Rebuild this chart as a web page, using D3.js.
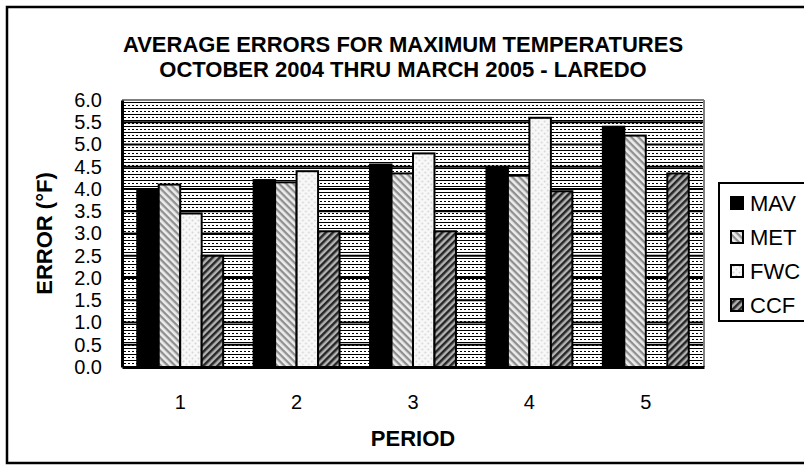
<!DOCTYPE html>
<html>
<head>
<meta charset="utf-8">
<script src="https://cdn.jsdelivr.net/npm/d3@7"></script>
<style>
  html, body { margin: 0; padding: 0; background: #fff; }
  svg { display: block; font-family: "Liberation Sans", Arial, sans-serif; }
</style>
</head>
<body>
<svg id="chart" width="804" height="471"></svg>
<script>
// ---- data ----
const categories = ["1", "2", "3", "4", "5"];
const seriesNames = ["MAV", "MET", "FWC", "CCF"];
const MAV = [4.0, 4.2, 4.55, 4.5, 5.4];
const MET = [4.1, 4.15, 4.35, 4.3, 5.2];
const FWC = [3.45, 4.4, 4.8, 5.6, null];
const CCF = [2.5, 3.05, 3.05, 3.95, 4.35];
const yTicks = [0, 0.5, 1.0, 1.5, 2.0, 2.5, 3.0, 3.5, 4.0, 4.5, 5.0, 5.5, 6.0];
const titleLines = ["AVERAGE ERRORS FOR MAXIMUM TEMPERATURES", "OCTOBER 2004 THRU MARCH 2005 - LAREDO"];
const xTitle = "PERIOD";
const yTitle = "ERROR (°F)";

const seriesValues = { MAV, MET, FWC, CCF };

// ---- layout ----
const svg = d3.select("#chart");
const plot = { left: 122, right: 704, top: 100, bottom: 367 };

// ---- patterns ----
const defs = svg.append("defs");
// plot background: horizontal solid + dotted lines
const bg = defs.append("pattern").attr("id", "bgpat").attr("patternUnits", "userSpaceOnUse")
  .attr("width", 4).attr("height", 6);
bg.append("rect").attr("width", 4).attr("height", 6).attr("fill", "#fff");
bg.append("rect").attr("x", 0).attr("y", 0).attr("width", 4).attr("height", 1).attr("fill", "#000");
bg.append("rect").attr("x", 0).attr("y", 3).attr("width", 2).attr("height", 1).attr("fill", "#000");

// MET: gray diagonal "\" stripes
const pMet = defs.append("pattern").attr("id", "pMET").attr("patternUnits", "userSpaceOnUse")
  .attr("width", 5).attr("height", 5).attr("patternTransform", "rotate(45)");
pMet.append("rect").attr("width", 5).attr("height", 5).attr("fill", "#ececec");
pMet.append("rect").attr("width", 5).attr("height", 2.3).attr("fill", "#8f8f8f");

// FWC: white with light dots
const pFwc = defs.append("pattern").attr("id", "pFWC").attr("patternUnits", "userSpaceOnUse")
  .attr("width", 6).attr("height", 6);
pFwc.append("rect").attr("width", 6).attr("height", 6).attr("fill", "#f8f8f8");
pFwc.append("circle").attr("cx", 1.5).attr("cy", 1.5).attr("r", 1).attr("fill", "#d6d6d6");
pFwc.append("circle").attr("cx", 4.5).attr("cy", 4.5).attr("r", 1).attr("fill", "#d6d6d6");

// CCF: dark diagonal "/" stripes
const pCcf = defs.append("pattern").attr("id", "pCCF").attr("patternUnits", "userSpaceOnUse")
  .attr("width", 5).attr("height", 5).attr("patternTransform", "rotate(-45)");
pCcf.append("rect").attr("width", 5).attr("height", 5).attr("fill", "#b4b4b4");
pCcf.append("rect").attr("width", 5).attr("height", 2.5).attr("fill", "#262626");

const fills = { MAV: "#000", MET: "url(#pMET)", FWC: "url(#pFWC)", CCF: "url(#pCCF)" };

// ---- outer border ----
svg.append("rect").attr("x", 7).attr("y", 7).attr("width", 820).attr("height", 456)
  .attr("fill", "none").attr("stroke", "#000").attr("stroke-width", 2.5);

// ---- scales ----
const x0 = d3.scaleBand().domain(categories).range([plot.left, plot.right]).padding(0);
const bw = x0.bandwidth();
const gapSide = bw * 0.131;
const x1 = d3.scaleBand().domain(seriesNames).range([gapSide, bw - gapSide]).padding(0);
const y = d3.scaleLinear().domain([0, 6]).range([plot.bottom, plot.top]);

// ---- plot background ----
svg.append("rect").attr("x", plot.left).attr("y", plot.top)
  .attr("width", plot.right - plot.left).attr("height", plot.bottom - plot.top)
  .attr("fill", "url(#bgpat)");

// gridlines
svg.append("g").selectAll("line").data(yTicks.slice(1, -1)).join("line")
  .attr("x1", plot.left).attr("x2", plot.right)
  .attr("y1", d => y(d)).attr("y2", d => y(d))
  .attr("stroke", "#000").attr("stroke-width", 2);

// plot frame (gray top/right)
svg.append("line").attr("x1", plot.left).attr("x2", plot.right).attr("y1", plot.top).attr("y2", plot.top)
  .attr("stroke", "#808080").attr("stroke-width", 2);
svg.append("line").attr("x1", plot.right).attr("x2", plot.right).attr("y1", plot.top).attr("y2", plot.bottom)
  .attr("stroke", "#808080").attr("stroke-width", 2);

// ---- bars ----
const groups = svg.append("g").selectAll("g").data(categories).join("g")
  .attr("transform", d => `translate(${x0(d)},0)`);
groups.selectAll("rect")
  .data((c, i) => seriesNames.map(s => ({ s, v: seriesValues[s][i] })).filter(d => d.v != null))
  .join("rect")
  .attr("x", d => x1(d.s))
  .attr("width", x1.bandwidth())
  .attr("y", d => y(d.v))
  .attr("height", d => y(0) - y(d.v))
  .attr("fill", d => fills[d.s])
  .attr("stroke", "#000").attr("stroke-width", 2);

// ---- axes ----
const yAxis = d3.axisLeft(y).tickValues(yTicks).tickFormat(d3.format(".1f")).tickSize(0).tickPadding(20);
const gy = svg.append("g").attr("transform", `translate(${plot.left},0)`).call(yAxis);
gy.select(".domain").attr("stroke", "#000").attr("stroke-width", 3);
gy.selectAll("text").attr("font-size", 20).attr("fill", "#000")
  .attr("font-family", "'Liberation Sans', Arial, sans-serif");

const xAxis = d3.axisBottom(x0).tickSize(0).tickPadding(28);
const gx = svg.append("g").attr("transform", `translate(0,${plot.bottom})`).call(xAxis);
gx.select(".domain").attr("stroke", "#000").attr("stroke-width", 3);
gx.selectAll("text").attr("font-size", 20).attr("fill", "#000")
  .attr("font-family", "'Liberation Sans', Arial, sans-serif");

// ---- titles ----
svg.append("g").selectAll("text").data(titleLines).join("text")
  .attr("x", 403).attr("y", (d, i) => 52 + i * 25)
  .attr("text-anchor", "middle").attr("font-size", 22).attr("font-weight", "bold")
  .text(d => d);

svg.append("text").attr("x", (plot.left + plot.right) / 2).attr("y", 446)
  .attr("text-anchor", "middle").attr("font-size", 22).attr("font-weight", "bold").text(xTitle);

svg.append("text").attr("transform", `translate(52,${(plot.top + plot.bottom) / 2}) rotate(-90)`)
  .attr("text-anchor", "middle").attr("font-size", 22).attr("font-weight", "bold").text(yTitle);

// ---- legend ----
const legend = svg.append("g");
legend.append("rect").attr("x", 719).attr("y", 183).attr("width", 100).attr("height", 138)
  .attr("fill", "#fff").attr("stroke", "#000").attr("stroke-width", 2);
const li = legend.selectAll("g").data(seriesNames).join("g")
  .attr("transform", (d, i) => `translate(0,${203 + i * 34})`);
li.append("rect").attr("x", 731).attr("y", -6).attr("width", 12).attr("height", 12)
  .attr("fill", d => fills[d]).attr("stroke", "#000").attr("stroke-width", 2);
li.append("text").attr("x", 750).attr("y", 8).attr("font-size", 22).text(d => d);
</script>
</body>
</html>
